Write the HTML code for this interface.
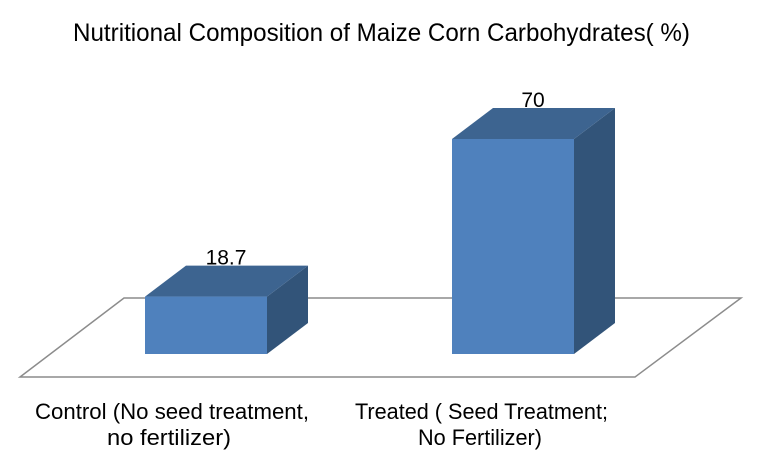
<!DOCTYPE html>
<html><head><meta charset="utf-8"><style>
body{margin:0;background:#fff;}
svg{display:block;font-family:"Liberation Sans",Arial,sans-serif;}
</style></head><body>
<svg width="768" height="464" viewBox="0 0 768 464">
<text x="73" y="41" font-size="25" textLength="617" lengthAdjust="spacingAndGlyphs">Nutritional Composition of Maize Corn Carbohydrates( %)</text>
<polygon points="20,377 635,377 741,298 124,298" fill="none" stroke="#8c8c8c" stroke-width="1.5"/>
<g id="bars"></g>
<text x="35" y="419" font-size="22" textLength="274" lengthAdjust="spacingAndGlyphs">Control (No seed treatment,</text>
<text x="107" y="445" font-size="22" textLength="124" lengthAdjust="spacingAndGlyphs">no fertilizer)</text>
<text x="355" y="419" font-size="22" textLength="253" lengthAdjust="spacingAndGlyphs">Treated ( Seed Treatment;</text>
<text x="418" y="445" font-size="22" textLength="124" lengthAdjust="spacingAndGlyphs">No Fertilizer)</text>
</svg>
<script>
const categories=["Control","Treated"];
const values=[18.7,70];
const labels=["18.7","70"];
const NS="http://www.w3.org/2000/svg";
const g=document.getElementById('bars');
const base=354, scale=215/70, dx=41, dy=-31, w=122;
const lefts=[145,452];
function y(v){return base-v*scale;}
values.forEach((v,i)=>{
  const x0=lefts[i], x1=x0+w, yt=y(v);
  const side=document.createElementNS(NS,'polygon');
  side.setAttribute('points',`${x1},${yt} ${x1+dx},${yt+dy} ${x1+dx},${base+dy} ${x1},${base}`);
  side.setAttribute('fill','#325479');
  
  
  g.appendChild(side);
  const top=document.createElementNS(NS,'polygon');
  top.setAttribute('points',`${x0},${yt} ${x0+dx},${yt+dy} ${x1+dx},${yt+dy} ${x1},${yt}`);
  top.setAttribute('fill','#3D6490');
  
  
  g.appendChild(top);
  const front=document.createElementNS(NS,'rect');
  front.setAttribute('x',x0);front.setAttribute('y',yt);
  front.setAttribute('width',w);front.setAttribute('height',base-yt);
  front.setAttribute('fill','#4F81BD');
  
  
  g.appendChild(front);
  const t=document.createElementNS(NS,'text');
  t.setAttribute('x',x0+w/2+dx-21);t.setAttribute('y',yt+dy-1);
  t.setAttribute('font-size','21');t.setAttribute('text-anchor','middle');
  t.textContent=labels[i];
  
  
  g.appendChild(t);
});
</script>
</body></html>
